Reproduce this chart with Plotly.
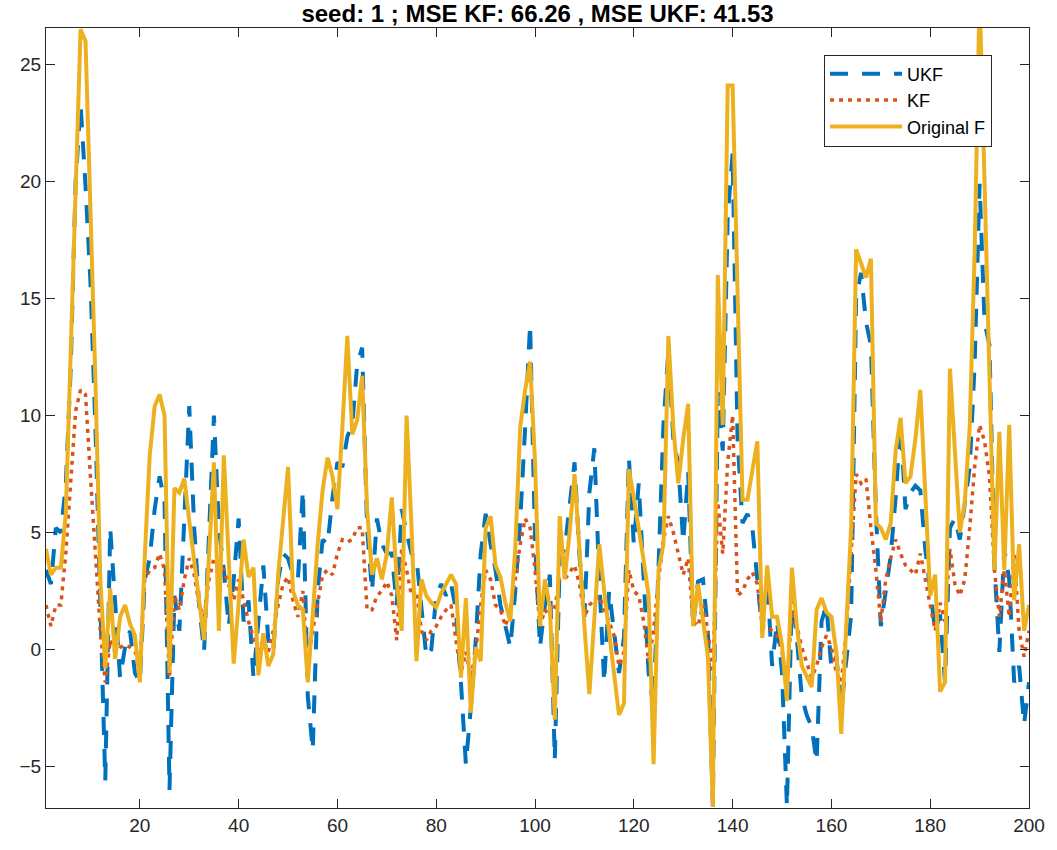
import plotly.graph_objects as go

# Sample index 1..200
steps = list(range(1, 201))

# Unscented Kalman filter estimate
ukf = [
    3.4, 2.8, 5.2, 5.0, 7.0, 12.0, 20.0, 23.3, 19.8, 15.7,
    9.5, 1.9, -5.6, 5.2, 1.9, -1.2, 0.1, 0.8, -1.0, -1.4,
    3.0, 3.9, 6.0, 7.4, 6.3, -6.0, 2.3, 0.8, 5.6, 10.4,
    5.2, 1.9, -0.1, 5.2, 10.0, 5.2, 3.4, 1.0, 3.0, 5.6,
    1.2, 2.1, -1.2, 1.2, 3.6, 0.4, -0.1, 3.0, 4.1, 3.9,
    3.2, 3.0, 6.8, -2.0, -4.3, 2.5, 4.7, 4.5, 6.5, 8.0,
    7.8, 9.1, 9.6, 12.2, 12.9, 5.2, 2.5, 5.6, 4.5, 4.1,
    4.1, 1.9, 6.0, 5.0, 4.1, 3.9, 1.9, -0.3, 0.0, 2.3,
    2.8, 2.3, 2.8, 1.7, -1.4, -4.9, -2.5, 0.4, 4.1, 5.8,
    4.5, 3.4, 1.9, 1.0, 0.1, 2.5, 5.5, 9.5, 13.9, 4.7,
    0.1, 1.9, 3.2, -4.7, 3.9, 4.3, 6.0, 8.0, 4.0, 1.4,
    6.7, 8.6, 3.0, -1.4, 2.5, 0.8, -1.0, 0.5, 8.2, 4.5,
    7.1, 3.0, -1.0, -2.5, 3.0, 9.6, 12.8, 9.0, 7.9, 4.6,
    7.6, 1.0, 2.9, 3.0, 0.8, -6.7, 11.0, 8.5, 18.5, 21.2,
    9.0, 5.4, 5.8, 5.2, 3.0, 0.8, 3.0, -0.7, 1.2, -1.0,
    -6.7, 2.5, 0.5, -2.0, -2.8, -3.3, -4.8, 1.2, 1.9, -0.8,
    -0.3, -2.5, -0.5, 1.5, 15.0, 16.1, 14.0, 13.0, 6.0, 1.0,
    2.5, 4.0, 6.5, 9.6, 6.0, 6.7, 7.0, 6.8, 4.3, 2.5,
    0.8, 1.5, -1.4, 5.2, 5.6, 4.7, 6.3, 7.8, 12.2, 19.9,
    14.0, 13.0, 3.6, -0.1, 4.3, 3.0, -1.4, -0.7, -3.2, -1.4,
]

# Linear Kalman filter estimate
kf = [
    1.9, 1.0, 1.9, 1.9, 4.1, 7.4, 10.2, 11.1, 10.9, 7.4,
    4.1, 0.8, -1.4, 0.4, -0.1, 0.1, 0.2, 0.1, -0.1, -0.5,
    3.0, 3.4, 3.5, 4.1, 3.4, -1.2, 2.3, 1.7, 3.0, 3.9,
    3.2, 1.9, 1.4, 3.0, 3.9, 3.6, 3.4, 2.8, 2.1, 3.0,
    2.1, 1.2, 0.5, 0.0, 0.4, -0.1, 0.8, 1.9, 2.8, 3.1,
    2.1, 1.4, 2.5, -0.7, 0.8, 2.1, 3.2, 3.4, 3.2, 4.1,
    4.7, 4.6, 4.7, 5.2, 5.2, 1.7, 1.7, 2.3, 2.5, 2.9,
    2.3, 0.4, 4.3, 3.4, 2.3, 2.5, 0.8, 0.4, 0.8, 1.0,
    1.4, 1.7, 1.9, 0.4, -1.0, -0.1, -1.2, -0.1, 1.9, 3.4,
    3.0, 1.9, 1.7, 1.0, 1.7, 3.0, 4.5, 5.6, 5.2, 3.4,
    1.0, 1.7, 1.4, 1.8, 3.0, 3.0, 3.3, 3.6, 2.8, 1.4,
    1.9, 2.1, 2.3, 1.7, 1.2, 0.6, -0.7, -0.1, 3.4, 2.5,
    2.3, 1.2, -0.5, 0.8, 3.0, 4.7, 5.7, 5.0, 4.1, 3.2,
    3.9, 1.2, 1.0, 1.9, 0.8, -1.0, 6.3, 4.1, 8.0, 10.0,
    2.3, 2.5, 3.0, 3.3, 2.8, 1.0, 1.0, 0.8, 0.6, -0.1,
    -1.4, 1.7, 1.0, 0.1, -0.5, -1.2, -0.7, 0.1, 0.6, 0.1,
    -1.0, -1.4, 0.8, 4.1, 7.5, 7.1, 7.3, 5.2, 3.4, 1.2,
    3.0, 3.9, 4.7, 4.1, 3.6, 3.4, 3.2, 4.1, 3.0, 1.9,
    0.8, 2.0, 1.2, 4.3, 2.8, 2.3, 3.0, 5.2, 7.8, 9.6,
    8.9, 7.4, 3.4, 1.4, 3.4, 1.4, 4.1, 0.8, -0.3, 0.8,
]

# True signal
original_f = [
    4.3, 3.2, 3.5, 3.5, 5.8, 12.5, 19.5, 26.5, 26.0, 19.0,
    11.5, 3.0, -0.8, 2.6, -0.4, 1.4, 1.9, 1.1, 0.6, -1.4,
    4.0, 8.3, 10.4, 10.9, 10.0, -1.0, 6.9, 6.7, 7.3, 5.5,
    3.8, 2.0, 0.4, 4.0, 8.0, 0.8, 8.3, 3.8, -0.6, 2.0,
    4.7, 3.1, 3.5, -1.1, 0.7, -0.7, -0.2, 3.2, 5.5, 7.8,
    2.5, 1.9, 1.7, -1.4, 1.5, 4.5, 6.8, 8.2, 7.4, 6.0,
    9.5, 13.4, 9.2, 9.8, 11.7, 6.0, 3.2, 3.9, 3.0, 4.1,
    6.5, 3.0, 0.8, 10.0, 5.2, -0.5, 3.0, 2.3, 2.0, 1.8,
    2.4, 2.8, 3.2, 2.8, -1.2, 2.2, -2.7, 0.1, -0.5, 5.2,
    5.7, 3.6, 3.1, 2.0, 1.2, 4.3, 9.5, 11.1, 12.3, 8.0,
    1.0, 3.0, 1.8, -3.0, 5.7, 3.0, 5.0, 7.5, 4.0, 1.0,
    -1.9, 1.3, 4.5, 2.5, 0.8, -1.0, -2.8, -2.3, 7.7, 6.5,
    5.2, 3.8, 2.3, -4.9, 3.4, 4.5, 13.4, 9.5, 7.1, 9.0,
    10.5, 1.0, 2.8, 1.3, -0.3, -6.7, 16.0, 9.6, 24.1, 24.1,
    15.0, 6.4, 6.4, 7.6, 8.9, 0.5, 3.6, 1.4, 1.4, 0.2,
    -2.2, 3.5, 1.0, -0.7, -1.2, -1.6, 1.7, 2.2, 1.6, 1.4,
    -0.1, -3.6, 1.0, 5.2, 17.1, 16.5, 15.9, 16.7, 5.4, 5.2,
    4.7, 5.4, 8.5, 9.9, 7.1, 7.4, 9.0, 11.1, 6.5, 2.3,
    3.2, -1.8, -1.4, 12.0, 8.5, 5.0, 6.3, 9.5, 17.0, 28.0,
    20.0, 12.0, 3.4, 9.3, 3.4, 9.6, 2.1, 4.5, 0.8, 1.9,
]

title_text = "seed: 1 ; MSE KF: 66.26 , MSE UKF: 41.53"
x_ticks = [20, 40, 60, 80, 100, 120, 140, 160, 180, 200]
y_ticks = [-5, 0, 5, 10, 15, 20, 25]

blue = "#0072BD"
red = "#D95319"
gold = "#EDB120"
axis_col = "#262626"
font_family = "Liberation Sans, Arial, sans-serif"

fig = go.Figure()
fig.add_trace(go.Scatter(
    x=steps, y=ukf, mode="lines", name="UKF",
    line=dict(color=blue, width=4, dash="18px,14px"),
))
fig.add_trace(go.Scatter(
    x=steps, y=kf, mode="lines", name="KF",
    line=dict(color=red, width=3.5, dash="4px,5px"),
))
fig.add_trace(go.Scatter(
    x=steps, y=original_f, mode="lines", name="Original F",
    line=dict(color=gold, width=4),
))

axis_common = dict(
    showgrid=False, zeroline=False, showline=True, linecolor=axis_col,
    linewidth=1, mirror="ticks", ticks="inside", ticklen=9,
    tickcolor=axis_col, tickwidth=1,
    tickfont=dict(family=font_family, size=19, color=axis_col),
)

fig.update_layout(
    width=1057, height=850,
    margin=dict(l=46, r=23, t=28, b=42),
    paper_bgcolor="white", plot_bgcolor="white",
    title=dict(
        text="<b>" + title_text + "</b>", x=0.5, xref="paper",
        y=1 - 13.5 / 850, yref="container", yanchor="middle",
        font=dict(family=font_family, size=24, color="black"),
    ),
    xaxis=dict(range=[1, 200], tickvals=x_ticks, **axis_common),
    yaxis=dict(range=[-6.77, 26.56], tickvals=y_ticks, **axis_common),
    legend=dict(
        x=0.7915, y=0.966, xanchor="left", yanchor="top",
        bgcolor="white", bordercolor=axis_col, borderwidth=1,
        font=dict(family=font_family, size=18, color="black"),
        tracegroupgap=0, itemwidth=72,
    ),
    showlegend=True,
)

fig.write_html("out.html")
